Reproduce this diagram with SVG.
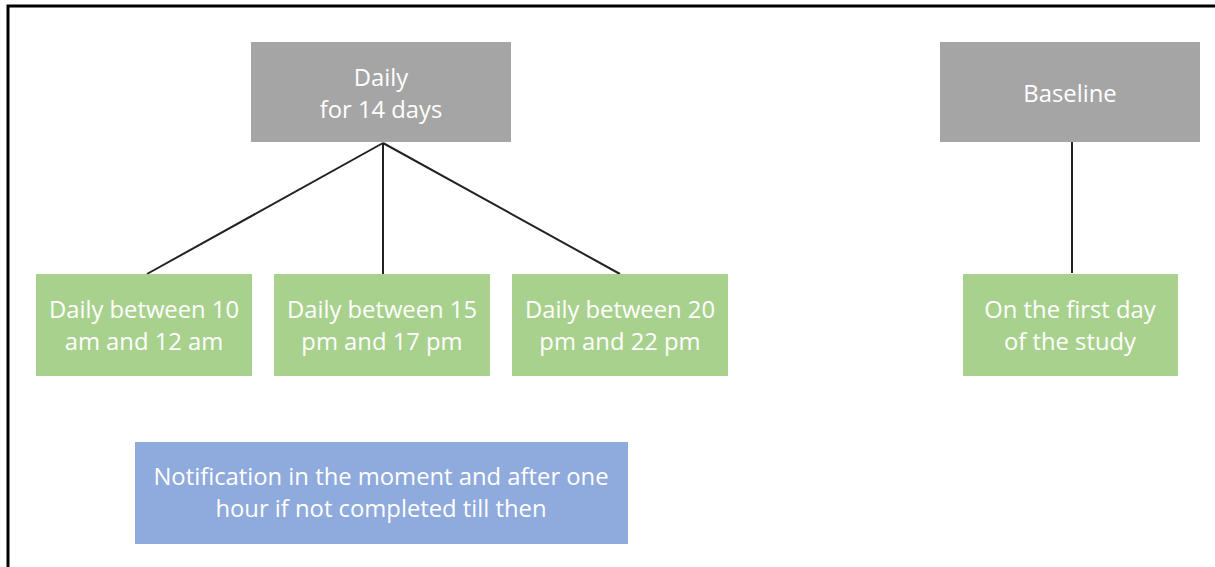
<svg xmlns="http://www.w3.org/2000/svg" width="1215" height="567" viewBox="0 0 1215 567">
<style>
.g{fill:#a5a5a5}
.gr{fill:#a9d18e}
.b{fill:#8faadc}
text{font-family:"Open Sans","Liberation Sans",sans-serif;font-size:23.8px;fill:#fff;text-anchor:middle}
.c line{stroke:#222;stroke-width:2}
</style>
<rect width="1215" height="567" fill="#fff"/>
<path d="M8 567V6H1215" fill="none" stroke="#000" stroke-width="3"/>
<g class="c" id="connectors">
<line x1="383" y1="143" x2="147" y2="274"/>
<line x1="383" y1="143" x2="383" y2="274"/>
<line x1="383" y1="143" x2="620" y2="274"/>
<line x1="1072" y1="142" x2="1072" y2="273"/>
</g>
<g id="daily"><rect class="g" x="251" y="42" width="260" height="100"/><text x="381" y="86">Daily</text><text x="381" y="118">for 14 days</text></g>
<g id="baseline"><rect class="g" x="940" y="42" width="260" height="100"/><text x="1070" y="102">Baseline</text></g>
<g id="d10"><rect class="gr" x="36" y="274" width="216" height="102"/><text x="144" y="318">Daily between 10</text><text x="144" y="350">am and 12 am</text></g>
<g id="d15"><rect class="gr" x="274" y="274" width="216" height="102"/><text x="382" y="318">Daily between 15</text><text x="382" y="350">pm and 17 pm</text></g>
<g id="d20"><rect class="gr" x="512" y="274" width="216" height="102"/><text x="620" y="318">Daily between 20</text><text x="620" y="350">pm and 22 pm</text></g>
<g id="first"><rect class="gr" x="963" y="274" width="215" height="102"/><text x="1070" y="318">On the first day</text><text x="1070" y="350">of the study</text></g>
<g id="notif"><rect class="b" x="135" y="442" width="493" height="102"/><text x="381" y="485">Notification in the moment and after one</text><text x="381" y="517">hour if not completed till then</text></g>
</svg>
